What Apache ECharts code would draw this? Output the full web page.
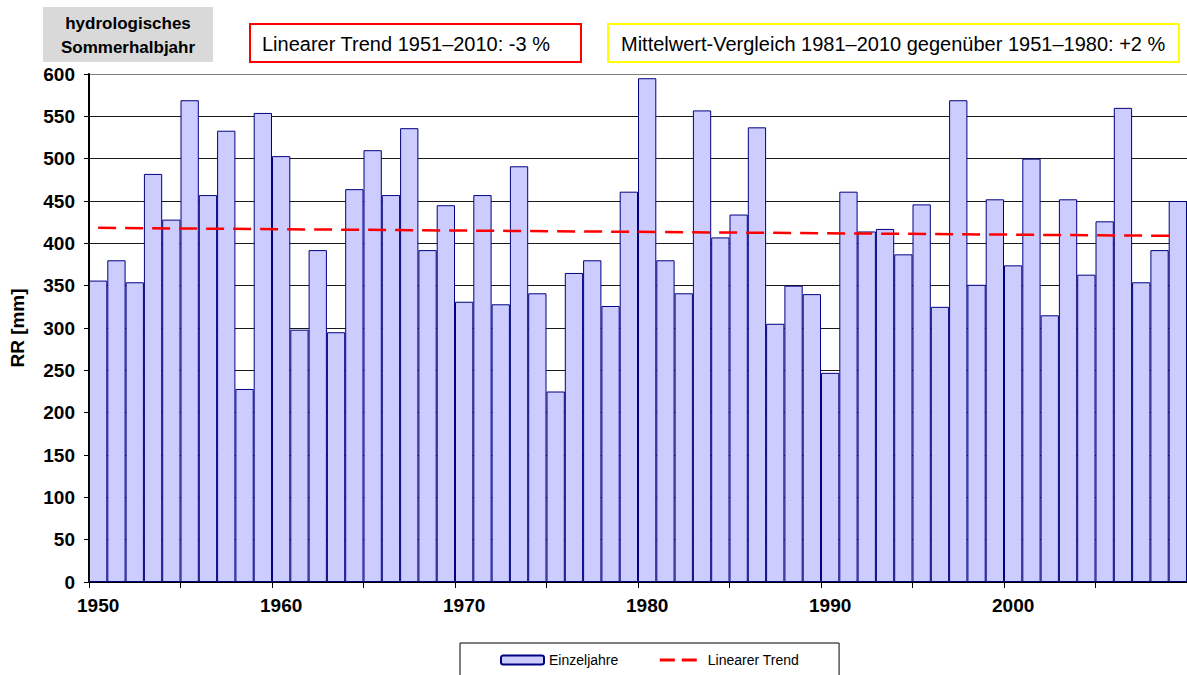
<!DOCTYPE html>
<html>
<head>
<meta charset="utf-8">
<script src="https://cdn.jsdelivr.net/npm/echarts@6/dist/echarts.min.js"></script>
<style>
  html, body { margin: 0; padding: 0; background: #fff; }
  #main { width: 1187px; height: 675px; }
</style>
</head>
<body>
<div id="main"></div>
<script>
// Jahre (Kategorien)
const years = [
  '1950', '1951', '1952', '1953', '1954', '1955', '1956', '1957', '1958', '1959',
  '1960', '1961', '1962', '1963', '1964', '1965', '1966', '1967', '1968', '1969',
  '1970', '1971', '1972', '1973', '1974', '1975', '1976', '1977', '1978', '1979',
  '1980', '1981', '1982', '1983', '1984', '1985', '1986', '1987', '1988', '1989',
  '1990', '1991', '1992', '1993', '1994', '1995', '1996', '1997', '1998', '1999',
  '2000', '2001', '2002', '2003', '2004', '2005', '2006', '2007', '2008', '2009'
]
// Niederschlag hydrologisches Sommerhalbjahr [mm]
const einzeljahre = [
  356, 380, 354, 482, 428, 569, 457, 533, 228, 554,
  503, 298, 392, 295, 464, 510, 457, 536, 392, 445,
  331, 457, 328, 491, 341, 225, 365, 380, 326, 461,
  595, 380, 341, 557, 407, 434, 537, 305, 350, 340,
  247, 461, 414, 417, 387, 446, 325, 569, 351, 452,
  374, 500, 315, 452, 363, 426, 560, 354, 392, 450
]
// Linearer Trend: Anfangs- und Endwert
const trendYears = ['1950', '2009']
const trendValues = [418.3, 408.8]
const yTicks = [0, 50, 100, 150, 200, 250, 300, 350, 400, 450, 500, 550, 600]

const FONT = 'Liberation Sans, Arial, sans-serif'

var chartDom = document.getElementById('main')
var myChart = echarts.init(chartDom, null, { renderer: 'svg' })

// Gitterlinien: oberste grau
const gridColors = yTicks.map((v) => (v === 600 ? '#808080' : '#1a1a1a'))

var option = {
  animation: false,
  backgroundColor: '#fff',
  textStyle: { fontFamily: FONT },
  grid: {
    left: 89,
    right: 0,
    top: 74,
    bottom: 93,
    containLabel: false,
  },
  legend: {
    left: 460,
    top: 643,
    padding: [10, 40, 14, 40],
    itemGap: 40,
    itemWidth: 43,
    itemHeight: 9,
    borderColor: '#000',
    borderWidth: 1,
    textStyle: { fontFamily: FONT, fontSize: 14, color: '#000' },
    data: [
      { name: 'Einzeljahre' },
      {
        name: 'Linearer Trend',
        itemStyle: { opacity: 0 },
        lineStyle: { color: '#FF0000', width: 3, type: [15, 7], opacity: 1 },
      },
    ],
  },
  xAxis: {
    type: 'category',
    data: years,
    boundaryGap: true,
    axisLine: { lineStyle: { color: '#000', width: 2 } },
    axisTick: {
      show: true,
      length: 6,
      interval: (index) => index % 5 === 0,
      lineStyle: { color: '#000', width: 1 },
    },
    axisLabel: {
      interval: (index) => index % 10 === 0,
      fontFamily: FONT,
      fontSize: 19,
      fontWeight: 'bold',
      color: '#000',
      margin: 14,
    },
    splitLine: { show: false },
  },
  yAxis: {
    type: 'value',
    min: 0,
    max: 600,
    interval: 50,
    name: 'RR [mm]',
    nameLocation: 'middle',
    nameRotate: 90,
    nameGap: 62,
    nameTextStyle: { fontFamily: FONT, fontSize: 19, fontWeight: 'bold', color: '#000' },
    axisLine: { show: true, lineStyle: { color: '#000', width: 2 } },
    axisTick: { show: true, length: 5, lineStyle: { color: '#000' } },
    axisLabel: {
      fontFamily: FONT,
      fontSize: 19,
      fontWeight: 'bold',
      color: '#000',
      margin: 14,
    },
    splitLine: { show: true, lineStyle: { color: gridColors, width: 1 } },
  },
  series: [
    {
      name: 'Einzeljahre',
      type: 'bar',
      data: einzeljahre,
      barCategoryGap: '0%',
      itemStyle: { color: '#CCCCFF', borderColor: '#000080', borderWidth: 1 },
      z: 2,
    },
    {
      name: 'Linearer Trend',
      type: 'line',
      data: trendYears.map((y, i) => [y, trendValues[i]]),
      symbol: 'none',
      lineStyle: { color: '#FF0000', width: 2.5, type: [18, 9] },
      z: 3,
    },
  ],
  graphic: [
    {
      type: 'rect',
      shape: { x: 43, y: 7, width: 170, height: 55 },
      style: { fill: '#D9D9D9' },
    },
    {
      type: 'text',
      x: 128,
      y: 35,
      style: {
        text: 'hydrologisches\nSommerhalbjahr',
        font: 'bold 17px ' + FONT,
        fill: '#000',
        align: 'center',
        verticalAlign: 'middle',
        lineHeight: 24,
      },
    },
    {
      type: 'rect',
      shape: { x: 250, y: 24, width: 331, height: 38 },
      style: { fill: '#fff', stroke: '#FF0000', lineWidth: 2 },
    },
    {
      type: 'text',
      x: 262,
      y: 44,
      style: {
        text: 'Linearer Trend 1951\u20132010: -3 %',
        font: '20px ' + FONT,
        fill: '#000',
        align: 'left',
        verticalAlign: 'middle',
      },
    },
    {
      type: 'rect',
      shape: { x: 608, y: 24, width: 571, height: 38 },
      style: { fill: '#fff', stroke: '#FFFF00', lineWidth: 2 },
    },
    {
      type: 'text',
      x: 621,
      y: 44,
      style: {
        text: 'Mittelwert-Vergleich 1981\u20132010 gegenüber 1951\u20131980: +2 %',
        font: '20px ' + FONT,
        fill: '#000',
        align: 'left',
        verticalAlign: 'middle',
      },
    },
  ],
}

option && myChart.setOption(option)
</script>
</body>
</html>
